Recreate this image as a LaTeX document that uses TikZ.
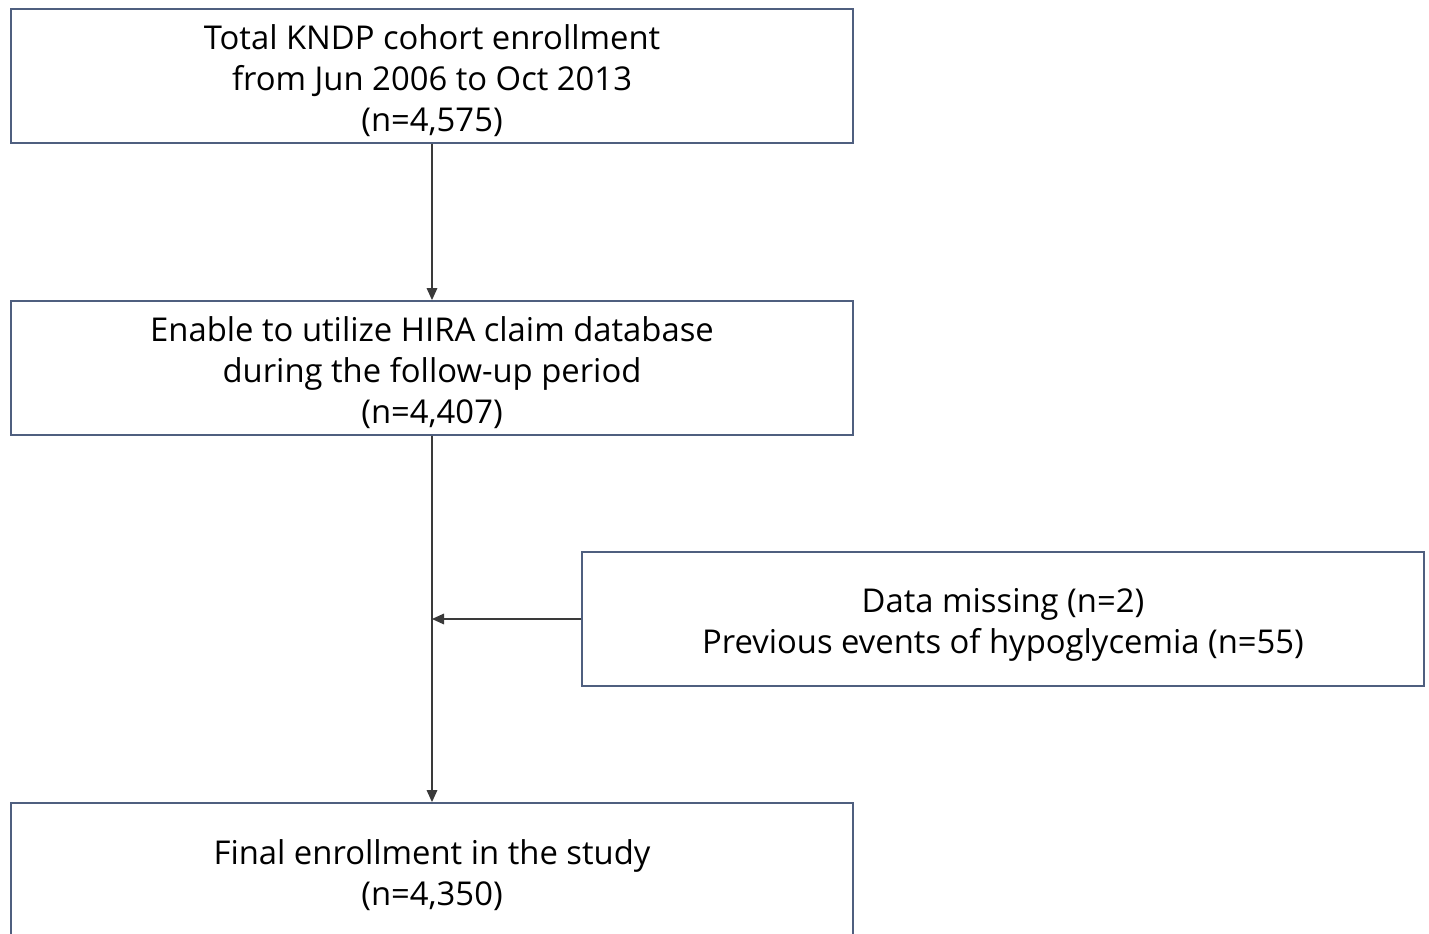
\documentclass[tikz,border=0pt]{standalone}
\usepackage{fontspec}
\setmainfont{Open Sans}
\usetikzlibrary{arrows.meta}
\definecolor{boxline}{HTML}{4F5F7F}
\definecolor{arrline}{HTML}{3A3A3A}
\newcommand{\lowered}[2]{\raisebox{0pt}[\height][\dimexpr\depth-#1\relax]{\begin{tabular}{@{}c@{}}#2\end{tabular}}}
\tikzset{
  box/.style={draw=boxline, line width=1.4pt, minimum width=631.5pt, minimum height=100.5pt,
    align=center, inner sep=0pt, font=\fontsize{24.6pt}{30.75pt}\selectfont, text=black},
  conn/.style={draw=arrline, line width=0.9pt, -{Triangle[length=9pt,width=8pt]}}
}
\begin{document}
\begin{tikzpicture}[x=0.75pt,y=-0.75pt]
\useasboundingbox (0,0) rectangle (1429,934);
\clip (0,0) rectangle (1429,934);
\node[box] (a) at (432,76) {\lowered{9pt}{Total KNDP cohort enrollment\\from Jun 2006 to Oct 2013\\(n=4,575)}};
\node[box] (b) at (432,368) {\lowered{9pt}{Enable to utilize HIRA claim database\\during the follow-up period\\(n=4,407)}};
\node[box] (c) at (1003,619) {\lowered{9pt}{Data missing (n=2)\\Previous events of hypoglycemia (n=55)}};
\node[box] (d) at (432,870) {\lowered{10pt}{Final enrollment in the study\\(n=4,350)}};
\coordinate (m) at (432,619);
\draw[conn] (a) -- (b);
\draw[conn] (b) -- (d);
\draw[conn] (c.west) -- (m);
\end{tikzpicture}
\end{document}
